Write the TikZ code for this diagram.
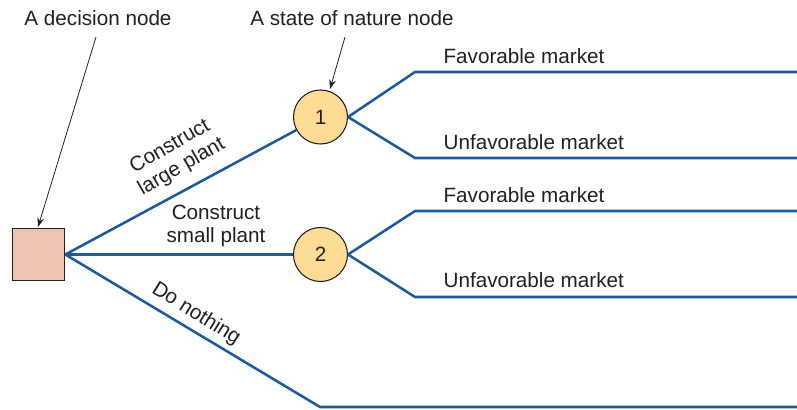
\documentclass[tikz,border=0pt]{standalone}
\usepackage{fontspec}
\setmainfont{Liberation Sans}
\usetikzlibrary{arrows.meta}
\definecolor{branch}{HTML}{1C5A9C}
\definecolor{txt}{HTML}{231F20}
\definecolor{chance}{HTML}{FDDC95}
\definecolor{decision}{HTML}{EDC3B3}
\tikzset{
  lbl/.style={text=txt,font=\fontsize{15.5}{17.5}\selectfont,inner sep=1pt},
  br/.style={draw=branch,line width=1.9pt},
  chancenode/.style={circle,draw=txt,fill=chance,line width=0.8pt,minimum size=40.5pt,inner sep=0pt,text=txt,font=\fontsize{15.5}{17}\selectfont},
  decnode/.style={rectangle,draw=txt,fill=decision,line width=0.8pt,minimum size=39.5pt,inner sep=0pt},
  pointer/.style={draw=txt,line width=0.6pt,-{Stealth[length=7pt,width=5pt]}}
}
\begin{document}
\begin{tikzpicture}[x=0.75pt,y=-0.75pt]
\useasboundingbox (0,0) rectangle (797,410);
\node[decnode] (d) at (38.5,254.5) {};
\node[chancenode] (c1) at (320.5,117) {1};
\node[chancenode] (c2) at (320.5,254.5) {2};
\coordinate (dr) at (d.east);
\coordinate (k1a) at (415,72);
\coordinate (k1b) at (415,158);
\coordinate (e1a) at (797,72);
\coordinate (e1b) at (797,158);
\coordinate (k2a) at (415,211);
\coordinate (k2b) at (415,297);
\coordinate (e2a) at (797,211);
\coordinate (e2b) at (797,297);
\coordinate (k3) at (320,407);
\coordinate (e3) at (797,407);
\draw[br] (dr) -- (c1);
\draw[br] (dr) -- (c2.west);
\draw[br] (dr) -- (k3) -- (e3);
\draw[br] (c1.east) -- (k1a) -- (e1a);
\draw[br] (c1.east) -- (k1b) -- (e1b);
\draw[br] (c2.east) -- (k2a) -- (e2a);
\draw[br] (c2.east) -- (k2b) -- (e2b);
\node[lbl,anchor=west] (f1) at (442,56) {Favorable market};
\node[lbl,anchor=west] (u1) at (442,142) {Unfavorable market};
\node[lbl,anchor=west] (f2) at (442,195) {Favorable market};
\node[lbl,anchor=west] (u2) at (442,280) {Unfavorable market};
\node[lbl,rotate=30,align=center] (l1) at (176,157) {Construct\\large plant};
\node[lbl,align=center] (l2) at (216,226) {Construct\\small plant};
\node[lbl,rotate=-32] (l3) at (196,314) {Do nothing};
\node[lbl] (t1) at (98,18) {A decision node};
\node[lbl] (t2) at (352,18) {A state of nature node};
\coordinate (p1) at (96,37);
\coordinate (p2) at (345,37);
\draw[pointer] (p1) -- (38,227);
\draw[pointer] (p2) -- (330,89);
\end{tikzpicture}
\end{document}
